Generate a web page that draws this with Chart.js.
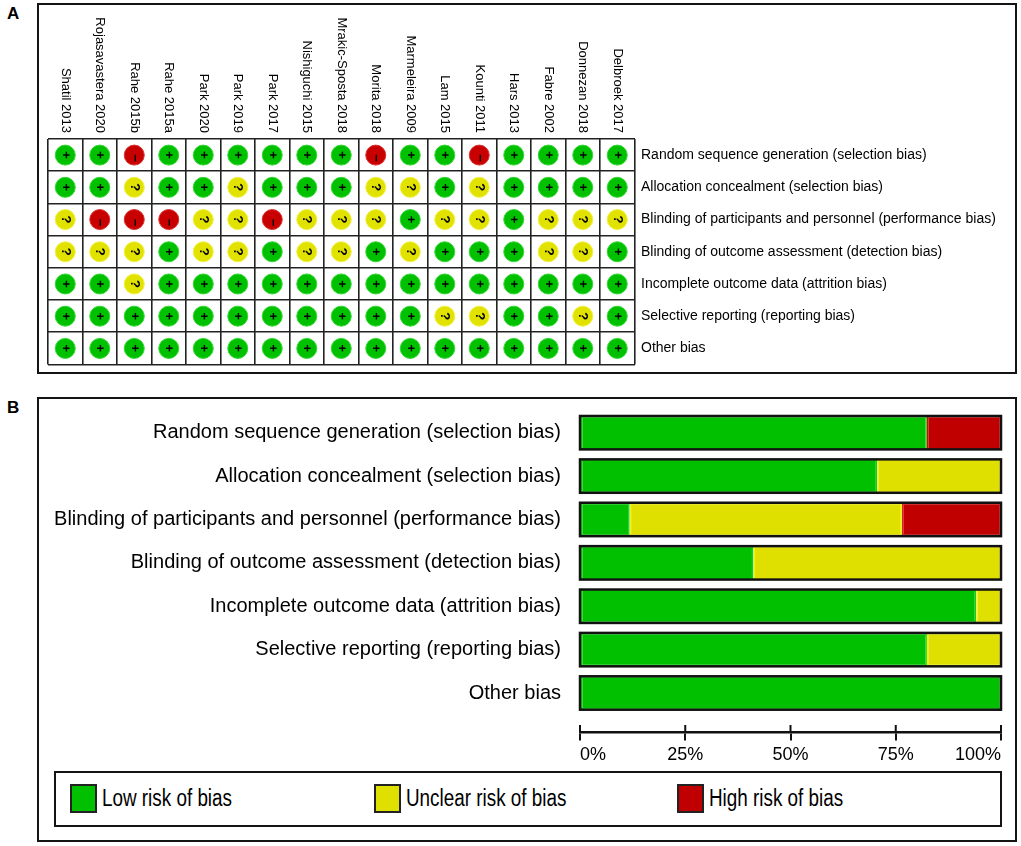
<!DOCTYPE html>
<html>
<head>
<meta charset="utf-8">
<title>Risk of bias</title>
<script src="https://cdn.jsdelivr.net/npm/chart.js@4.4.1/dist/chart.umd.min.js"></script>
<style>
  html, body { margin: 0; padding: 0; background: #fff; }
  #page { position: relative; width: 1021px; height: 846px; overflow: hidden;
    font-family: "Liberation Sans", Arial, sans-serif; color: #000; }
  .panel { position: absolute; box-sizing: border-box; border: 2px solid #141414; }
  .tag { position: absolute; font: bold 17px/20px "Liberation Sans", Arial, sans-serif; }
  canvas { position: absolute; left: 0; }
  #legend { position: absolute; left: 54px; top: 771px; width: 948px; height: 56px;
    box-sizing: border-box; border: 2px solid #141414; background: #fff; }
  .item { position: absolute; top: 10px; height: 31px; display: flex; align-items: center;
    font: 23px "Liberation Sans", Arial, sans-serif; white-space: nowrap; }
  .item span.txt { display: inline-block; transform: scaleX(0.82); transform-origin: 0 50%; }
  .swatch { width: 27px; height: 29px; box-sizing: border-box; border: 2px solid #222; margin-right: 5px; }
</style>
</head>
<body>
<div id="page">
  <div class="tag" style="left:7px; top:4px;">A</div>
  <div class="panel" style="left:37px; top:3px; width:980px; height:371px;"></div>
  <div class="tag" style="left:7px; top:398px;">B</div>
  <div class="panel" style="left:37px; top:397px; width:980px; height:445px;"></div>
  <canvas id="chart-grid" width="1021" height="380" style="top:0; width:1021px; height:380px;"></canvas>
  <canvas id="chart-summary" width="1021" height="400" style="top:376px; width:1021px; height:400px;"></canvas>
  <div id="legend"></div>
</div>
<script>
// studies (columns of panel A), in the order printed
const studies = [
    "Shatil 2013", "Rojasavastera 2020", "Rahe 2015b", "Rahe 2015a", "Park 2020",
    "Park 2019", "Park 2017", "Nishiguchi 2015", "Mrakic-Sposta 2018", "Morita 2018",
    "Marmeleira 2009", "Lam 2015", "Kounti 2011", "Hars 2013", "Fabre 2002",
    "Donnezan 2018", "Delbroek 2017",
];

const domains = [
    "Random sequence generation (selection bias)",
    "Allocation concealment (selection bias)",
    "Blinding of participants and personnel (performance bias)",
    "Blinding of outcome assessment (detection bias)",
    "Incomplete outcome data (attrition bias)",
    "Selective reporting (reporting bias)",
    "Other bias",
];

// judgements per domain, one per study: "+" low, "?" unclear, "-" high
const randomSequence       = ["+", "+", "-", "+", "+", "+", "+", "+", "+", "-", "+", "+", "-", "+", "+", "+", "+"];
const allocationConceal    = ["+", "+", "?", "+", "+", "?", "+", "+", "+", "?", "?", "+", "?", "+", "+", "+", "+"];
const blindingParticipants = ["?", "-", "-", "-", "?", "?", "-", "?", "?", "?", "+", "?", "?", "+", "?", "?", "?"];
const blindingOutcome      = ["?", "?", "?", "+", "?", "?", "+", "?", "?", "+", "?", "+", "+", "+", "?", "?", "+"];
const incompleteData       = ["+", "+", "?", "+", "+", "+", "+", "+", "+", "+", "+", "+", "+", "+", "+", "+", "+"];
const selectiveReporting   = ["+", "+", "+", "+", "+", "+", "+", "+", "+", "+", "+", "?", "?", "+", "+", "?", "+"];
const otherBias            = ["+", "+", "+", "+", "+", "+", "+", "+", "+", "+", "+", "+", "+", "+", "+", "+", "+"];

// panel B, percent of studies per domain
const lowRisk     = [82.4, 70.6, 11.8, 41.2, 94.1, 82.4, 100];
const unclearRisk = [0, 29.4, 64.7, 58.8, 5.9, 17.6, 0];
const highRisk    = [17.6, 0, 23.5, 0, 0, 0, 0];

const percentTicks = [0, 25, 50, 75, 100];
const legendLabels = ["Low risk of bias", "Unclear risk of bias", "High risk of bias"];

(function () {
    "use strict";

    const FONT = "'Liberation Sans', Arial, sans-serif";
    const RISK = {
        "+": { fill: "#00c000", edge: "#30d830", bar: "#00c000", barEdge: "#10d010" },
        "?": { fill: "#e2e200", edge: "#f0f040", bar: "#e0e000", barEdge: "#f4f400" },
        "-": { fill: "#c80000", edge: "#d83030", bar: "#c00000", barEdge: "#e00000" },
    };
    const rows = [randomSequence, allocationConceal, blindingParticipants, blindingOutcome,
        incompleteData, selectiveReporting, otherBias];

    function cellsFor(mark) {
        const out = [];
        rows.forEach((row, d) => row.forEach((v, i) => {
            if (v === mark) { out.push({ x: studies[i], y: domains[d] }); }
        }));
        return out;
    }

    // study names, rotated clockwise and ending just above the grid
    const columnLabels = {
        id: "columnLabels",
        afterDraw(chart) {
            const { ctx, chartArea, scales: { x } } = chart;
            ctx.save();
            ctx.font = `13px ${FONT}`;
            ctx.fillStyle = "#000";
            ctx.textAlign = "right";
            ctx.textBaseline = "middle";
            studies.forEach((name, i) => {
                ctx.save();
                ctx.translate(x.getPixelForTick(i), chartArea.top - 6);
                ctx.rotate(Math.PI / 2);
                ctx.fillText(name, 0, 0);
                ctx.restore();
            });
            ctx.restore();
        },
    };

    const riskSymbols = {
        id: "riskSymbols",
        afterDatasetsDraw(chart) {
            const { ctx } = chart;
            ctx.save();
            ctx.fillStyle = "#000";
            ctx.font = `bold 13px ${FONT}`;
            ctx.textAlign = "center";
            ctx.textBaseline = "middle";
            chart.data.datasets.forEach((ds, di) => {
                chart.getDatasetMeta(di).data.forEach(pt => {
                    ctx.save();
                    ctx.translate(pt.x, pt.y);
                    ctx.rotate(Math.PI / 2);
                    ctx.fillText(ds.symbol, ds.symbol === "\u2212" ? 3 : 0, 0);
                    ctx.restore();
                });
            });
            ctx.restore();
        },
    };

    function renderGrid() {
        const ctx = document.getElementById("chart-grid").getContext("2d");
        const lines = { offset: true, color: "#222", lineWidth: 1.6, drawTicks: false };
        new Chart(ctx, {
            type: "scatter",
            data: {
                datasets: [
                    { mark: "+", symbol: "+" },
                    { mark: "?", symbol: "?" },
                    { mark: "-", symbol: "\u2212" },
                ].map(d => ({
                    data: cellsFor(d.mark),
                    symbol: d.symbol,
                    pointRadius: 10,
                    pointBackgroundColor: RISK[d.mark].fill,
                    pointBorderColor: RISK[d.mark].edge,
                    pointBorderWidth: 1,
                    clip: false,
                })),
            },
            options: {
                responsive: false, animation: false, events: [],
                layout: { padding: { left: 48, top: 0, right: 0, bottom: 15.5 } },
                plugins: { legend: { display: false }, tooltip: { enabled: false } },
                scales: {
                    x: {
                        type: "category", position: "top", labels: studies, offset: true,
                        grid: lines, border: { display: false }, ticks: { display: false },
                        afterFit(s) { s.height = 139; },
                    },
                    y: {
                        type: "category", position: "right", labels: domains, offset: true,
                        grid: lines, border: { display: false },
                        ticks: { padding: 6.5, color: "#000", font: { family: FONT, size: 14 } },
                        afterFit(s) { s.width = 386.5; },
                    },
                },
            },
            plugins: [riskSymbols, columnLabels],
        });
    }

    // black frame round every full bar and the upper half of the axis ticks
    const barFrame = {
        id: "barFrame",
        afterDatasetsDraw(chart) {
            const { ctx, scales: { x, y } } = chart;
            const left = x.getPixelForValue(0);
            const right = x.getPixelForValue(100);
            ctx.save();
            ctx.strokeStyle = "#111";
            ctx.lineWidth = 2.5;
            chart.getDatasetMeta(0).data.forEach(bar => {
                ctx.strokeRect(left, bar.y - bar.height / 2, right - left, bar.height);
            });
            const axisY = y.getPixelForValue(6.9);
            ctx.lineWidth = 2;
            ctx.beginPath();
            x.ticks.forEach(t => {
                const px = x.getPixelForValue(t.value);
                ctx.moveTo(px, axisY - 7);
                ctx.lineTo(px, axisY);
            });
            ctx.stroke();
            ctx.restore();
        },
    };

    function renderSummary() {
        const ctx = document.getElementById("chart-summary").getContext("2d");
        const series = [["+", lowRisk], ["?", unclearRisk], ["-", highRisk]];
        new Chart(ctx, {
            type: "bar",
            data: {
                labels: domains,
                datasets: series.map(([mark, values], i) => ({
                    label: legendLabels[i],
                    data: values,
                    backgroundColor: RISK[mark].bar,
                    borderColor: RISK[mark].barEdge,
                    borderWidth: 1.5,
                    borderSkipped: false,
                    categoryPercentage: 1,
                    barPercentage: 0.77,
                })),
            },
            options: {
                responsive: false, animation: false, events: [], indexAxis: "y",
                layout: { padding: { left: 0, top: 35, right: 20, bottom: 61.3 } },
                plugins: { legend: { display: false }, tooltip: { enabled: false } },
                scales: {
                    x: {
                        type: "linear", stacked: true, min: 0, max: 100,
                        position: { y: 6.9 },
                        afterBuildTicks(s) { s.ticks = percentTicks.map(v => ({ value: v })); },
                        ticks: {
                            callback: v => `${v}%`, align: "inner", padding: 5, maxRotation: 0,
                            color: "#000", font: { family: FONT, size: 18 },
                        },
                        grid: { drawOnChartArea: false, drawTicks: true, tickLength: 7, color: "#111", lineWidth: 2 },
                        border: { color: "#111", width: 2.5 },
                    },
                    y: {
                        stacked: true,
                        grid: { display: false, drawTicks: false }, border: { display: false },
                        ticks: { padding: 19, color: "#000", font: { family: FONT, size: 20 } },
                        afterFit(s) { s.width = 580; },
                    },
                },
            },
            plugins: [barFrame],
        });
    }

    function renderLegend() {
        const box = document.getElementById("legend");
        const lefts = [14, 318, 621];
        ["+", "?", "-"].forEach((mark, i) => {
            const item = document.createElement("div");
            item.className = "item";
            item.style.left = `${lefts[i]}px`;
            const sw = document.createElement("span");
            sw.className = "swatch";
            sw.style.background = RISK[mark].bar;
            const txt = document.createElement("span");
            txt.className = "txt";
            txt.textContent = legendLabels[i];
            item.appendChild(sw);
            item.appendChild(txt);
            box.appendChild(item);
        });
    }

    renderGrid();
    renderSummary();
    renderLegend();
})();
</script>
</body>
</html>
